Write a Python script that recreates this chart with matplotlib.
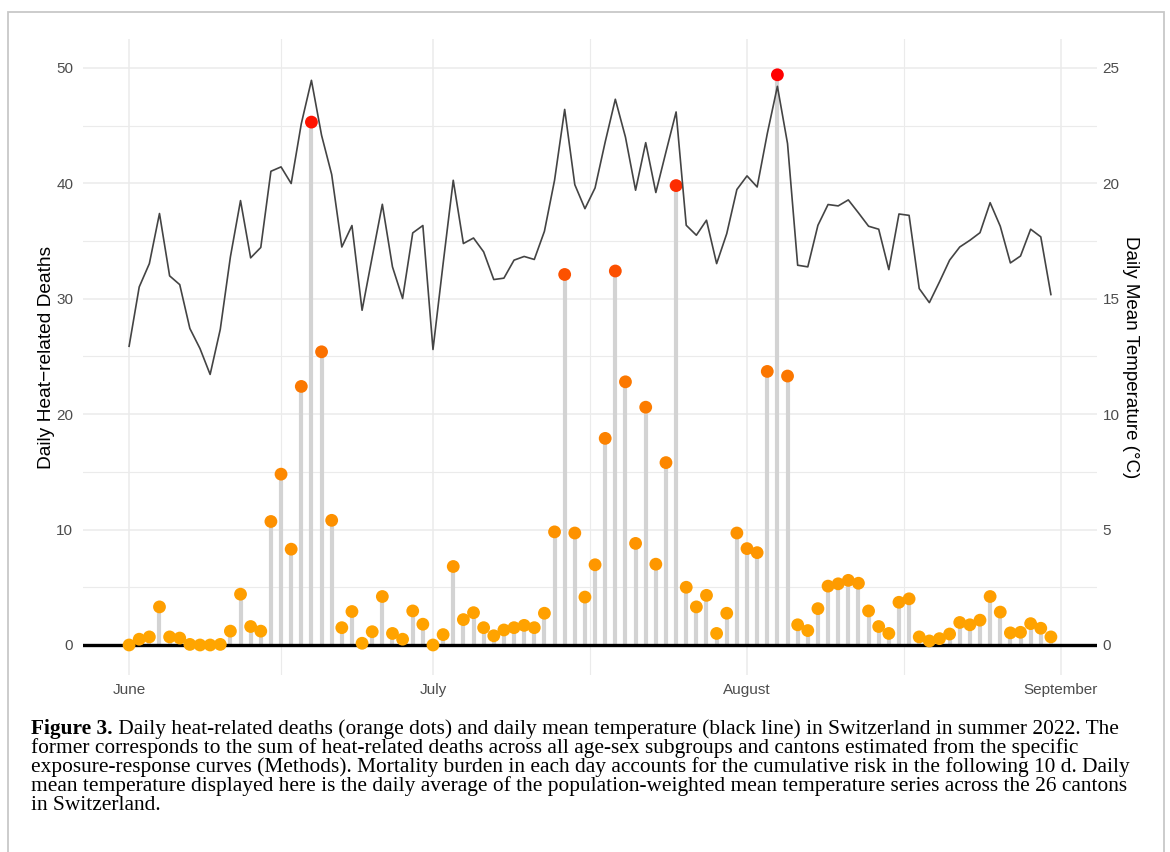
import matplotlib
matplotlib.use("Agg")
import matplotlib.pyplot as plt
import matplotlib.dates as mdates
from matplotlib.colors import LinearSegmentedColormap
from matplotlib.patches import Rectangle
import numpy as np
import pandas as pd

# data, 1 June - 31 August 2022
dates = pd.date_range("2022-06-01", "2022-08-31", freq="D")

deaths_jun = [0, 0.5, 0.7, 3.3, 0.7, 0.6, 0.05, 0, 0, 0.05,
              1.2, 4.4, 1.6, 1.2, 10.7, 14.8, 8.3, 22.4, 45.3, 25.4,
              10.8, 1.5, 2.9, 0.15, 1.15, 4.2, 1.0, 0.5, 2.95, 1.8]
deaths_jul = [0, 0.9, 6.8, 2.2, 2.8, 1.5, 0.8, 1.3, 1.5, 1.7,
              1.5, 2.75, 9.8, 32.1, 9.7, 4.15, 6.95, 17.9, 32.4, 22.8,
              8.8, 20.6, 7.0, 15.8, 39.8, 5.0, 3.3, 4.3, 1.0, 2.75, 9.7]
deaths_aug = [8.35, 8.0, 23.7, 49.4, 23.3, 1.75, 1.25, 3.15, 5.1, 5.3,
              5.6, 5.35, 2.95, 1.6, 1.0, 3.7, 4.0, 0.7, 0.35, 0.55,
              0.95, 1.95, 1.75, 2.15, 4.2, 2.85, 1.05, 1.1, 1.85, 1.45, 0.7]

temp_jun = [12.94, 15.51, 16.52, 18.69, 15.99, 15.61, 13.71, 12.84, 11.72, 13.67,
            16.81, 19.25, 16.77, 17.22, 20.52, 20.71, 19.99, 22.58, 24.46, 22.08,
            20.38, 17.24, 18.17, 14.5, 16.81, 19.09, 16.38, 15.01, 17.85, 18.17]
temp_jul = [12.8, 16.52, 20.13, 17.39, 17.63, 17.03, 15.83, 15.89, 16.67, 16.83,
            16.7, 17.92, 20.13, 23.2, 19.94, 18.9, 19.8, 21.79, 23.64, 22.0,
            19.7, 21.76, 19.6, 21.36, 23.09, 18.18, 17.75, 18.4, 16.52, 17.82, 19.73]
temp_aug = [20.32, 19.84, 22.15, 24.2, 21.72, 16.45, 16.38, 18.18, 19.08, 19.02,
            19.28, 18.72, 18.14, 18.01, 16.26, 18.67, 18.61, 15.44, 14.83, 15.73,
            16.67, 17.24, 17.53, 17.86, 19.16, 18.14, 16.55, 16.85, 18.01, 17.68, 15.18]

deaths = np.array(deaths_jun + deaths_jul + deaths_aug)
temp = np.array(temp_jun + temp_jul + temp_aug)

month_ticks = ["2022-06-01", "2022-07-01", "2022-08-01", "2022-09-01"]
month_labels = ["June", "July", "August", "September"]

caption = [
    "Daily heat-related deaths (orange dots) and daily mean temperature (black line) in Switzerland in summer 2022. The",
    "former corresponds to the sum of heat-related deaths across all age-sex subgroups and cantons estimated from the specific",
    "exposure-response curves (Methods). Mortality burden in each day accounts for the cumulative risk in the following 10 d. Daily",
    "mean temperature displayed here is the daily average of the population-weighted mean temperature series across the 26 cantons",
    "in Switzerland.",
]

plt.rcParams["font.family"] = ["Liberation Sans", "DejaVu Sans"]

W, H = 1170, 852
fig = plt.figure(figsize=(W / 100, H / 100), dpi=100)
ax = fig.add_axes([83 / W, 1 - 675 / H, 1014 / W, 636 / H])
ax2 = ax.twinx()

x = mdates.date2num(dates)
xt = mdates.date2num(pd.to_datetime(month_ticks))
pad = 0.05 * (x[-1] - x[0])

ax.vlines(x, 0, deaths, color="#D3D3D3", lw=3, zorder=2)
ax.axhline(0, color="black", lw=2.4, zorder=3)
cmap = LinearSegmentedColormap.from_list("heat", ["#FFA500", "#FB7400", "#FF0000"])
ax.scatter(x, deaths, c=deaths, cmap=cmap, vmin=0, vmax=deaths.max(),
           s=85, linewidths=0, zorder=4)
ax2.plot(x, temp, color="#444444", lw=1.2)

ylo, yhi = -2.6, 52.5
ax.set_ylim(ylo, yhi)
ax2.set_ylim(ylo / 2, yhi / 2)
ax.set_xlim(x[0] - pad, x[-1] + pad)

ax.set_yticks(range(0, 51, 10))
ax.set_yticks(range(5, 50, 10), minor=True)
ax2.set_yticks(range(0, 26, 5))
ax.set_xticks(xt)
ax.set_xticklabels(month_labels)
ax.set_xticks((xt[:-1] + xt[1:]) / 2, minor=True)

ax.grid(True, which="major", color="#EBEBEB", lw=1.1, zorder=0)
ax.grid(True, which="minor", color="#EBEBEB", lw=0.8, zorder=0)
ax.set_axisbelow(True)

for a in (ax, ax2):
    for s in a.spines.values():
        s.set_visible(False)
    a.tick_params(which="both", length=0, labelsize=11, labelcolor="#4D4D4D")
ax.tick_params(axis="y", pad=7)
ax.tick_params(axis="x", pad=6)
ax2.tick_params(axis="y", pad=4)

ax.set_ylabel("Daily Heat\u2212related Deaths", fontsize=13.8, labelpad=1)
ax2.set_ylabel("Daily Mean Temperature (\u00b0C)", fontsize=13.5, rotation=-90,
               labelpad=14)

# caption below the panel
serif = ["Liberation Serif", "DejaVu Serif"]
fs = 15.4
cx = 31 / W
base = [734, 753, 772, 791, 810]
t1 = fig.text(cx, 1 - base[0] / H, "Figure 3.", family=serif, fontsize=fs,
              fontweight="bold", va="baseline")
ax.annotate(" " + caption[0], xy=(1, 0), xycoords=t1, va="bottom", ha="left",
            family=serif, fontsize=fs, annotation_clip=False)
for yb, line in zip(base[1:], caption[1:]):
    fig.text(cx, 1 - yb / H, line, family=serif, fontsize=fs, va="baseline")

fig.patches.append(Rectangle((8 / W, -0.05), 1156 / W, 1.05 - 12 / H,
                             transform=fig.transFigure, fill=False,
                             edgecolor="#C8C8C8", lw=1.3))

fig.savefig("out.png", dpi=100)
